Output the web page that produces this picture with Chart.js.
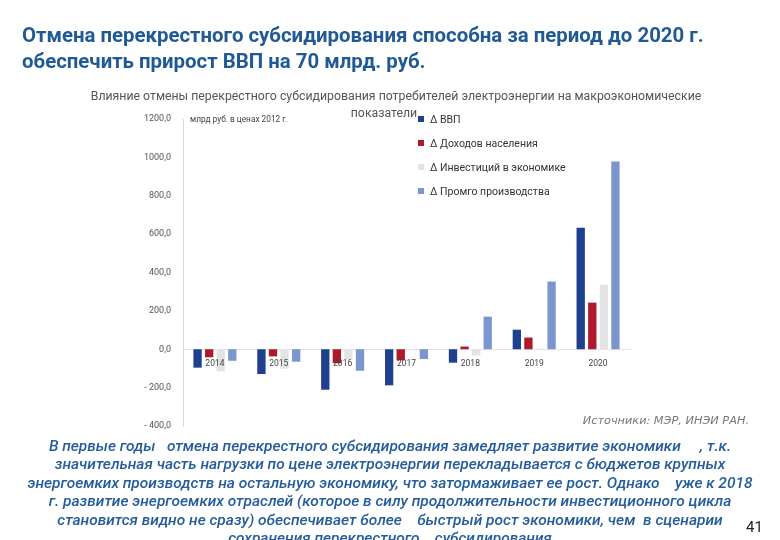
<!DOCTYPE html>
<html><head><meta charset="utf-8">
<script src="https://cdn.jsdelivr.net/npm/chart.js@4"></script>
<style>
html,body{margin:0;padding:0;background:#fff;}
#wrap{position:relative;width:780px;height:540px;overflow:hidden;font-family:Roboto,"Noto Sans",sans-serif;}
#title{position:absolute;left:22px;top:22px;font-weight:700;font-size:20.4px;line-height:26px;color:#1f5a94;white-space:nowrap;}
#sub{position:absolute;left:0;width:792px;top:88px;text-align:center;font-size:12.3px;line-height:17px;color:#555;}
#unit{position:absolute;left:190px;top:114px;font-size:8.3px;color:#444;}
#legend{position:absolute;left:418px;top:113px;font-size:10.5px;color:#333;}
#legend div{height:24px;line-height:14px;white-space:nowrap;}
#legend span.sw{display:inline-block;width:6px;height:6px;margin-right:6px;vertical-align:1px;}
#src{position:absolute;right:31px;top:414px;font-family:"DejaVu Sans",sans-serif;font-size:11.3px;font-style:italic;color:#777;}
#para{position:absolute;left:0;width:780px;top:437px;text-align:center;font-size:15.5px;line-height:18.4px;font-style:italic;font-weight:500;color:#245c9c;white-space:pre;}
#pg{position:absolute;left:746px;top:518px;font-size:15px;color:#222;}
canvas{position:absolute;left:0;top:0;}
</style></head>
<body><div id="wrap">
<canvas id="c" width="780" height="540"></canvas>
<div id="title">Отмена перекрестного субсидирования способна за период до 2020 г.<br>обеспечить прирост ВВП на 70 млрд. руб.</div>
<div id="sub">Влияние отмены перекрестного субсидирования потребителей электроэнергии на макроэкономические<br><span style="margin-right:24px">показатели</span></div>
<div id="unit">млрд руб. в ценах 2012 г.</div>
<div id="legend"></div>
<div id="src">Источники: МЭР, ИНЭИ РАН.</div>
<div id="para">В первые годы   отмена перекрестного субсидирования замедляет развитие экономики     , т.к.
значительная часть нагрузки по цене электроэнергии перекладывается с бюджетов крупных
энергоемких производств на остальную экономику, что затормаживает ее рост. Однако    уже к 2018
г. развитие энергоемких отраслей (которое в силу продолжительности инвестиционного цикла
становится видно не сразу) обеспечивает более    быстрый рост экономики, чем  в сценарии
сохранения перекрестного    субсидирования</div>
<div id="pg">41</div>
</div>
<script>
const categories = ['2014','2015','2016','2017','2018','2019','2020'];
const seriesNames = ['Δ ВВП','Δ Доходов населения','Δ Инвестиций в экономике','Δ Промго производства'];
const gdp        = [-96, -129, -211, -188, -70, 102, 633];
const income     = [-42, -37, -73, -58, 14, 61, 243];
const investment = [-115, -101, -51, -5, -33, 3, 337];
const industry   = [-60, -65, -112, -51, 170, 353, 978];
const yTicks     = [-400, -200, 0, 200, 400, 600, 800, 1000, 1200];
const colors = ['#1f3f8f','#b0192b','#e3e3e3','#7b96cf'];

const values = [gdp, income, investment, industry];
const lg = document.getElementById('legend');
seriesNames.forEach((n,i)=>{
  const d=document.createElement('div');
  d.innerHTML='<span class="sw" style="background:'+colors[i]+'"></span>'+n;
  lg.appendChild(d);
});

new Chart(document.getElementById('c'), {
  type:'bar',
  data:{labels:categories, datasets: values.map((v,i)=>({label:seriesNames[i], data:v, backgroundColor:colors[i], borderWidth:0, categoryPercentage:0.725, barPercentage:0.72}))},
  options:{
    responsive:false, animation:false,
    layout:{padding:{left:0, top:119, right:150, bottom:114}},
    plugins:{legend:{display:false}, tooltip:{enabled:false}},
    scales:{
      x:{position:{y:0}, grid:{display:false}, border:{display:true,color:'#e4e4e4'},
         ticks:{z:1, color:'#444', font:{size:8.5, family:'Roboto'}, padding:2}},
      y:{min:-400, max:1200, afterFit:(s)=>{s.width=183;},
         afterBuildTicks:(s)=>{s.ticks=yTicks.map(v=>({value:v}));},
         grid:{display:false}, border:{display:true,color:'#d8d8d8'},
         ticks:{color:'#555', font:{size:9, family:'Roboto'}, padding:4,
           callback:(v)=> (v<0?'- '+Math.abs(v):String(v))+',0'}}
    }
  }
});
</script>
</body></html>
